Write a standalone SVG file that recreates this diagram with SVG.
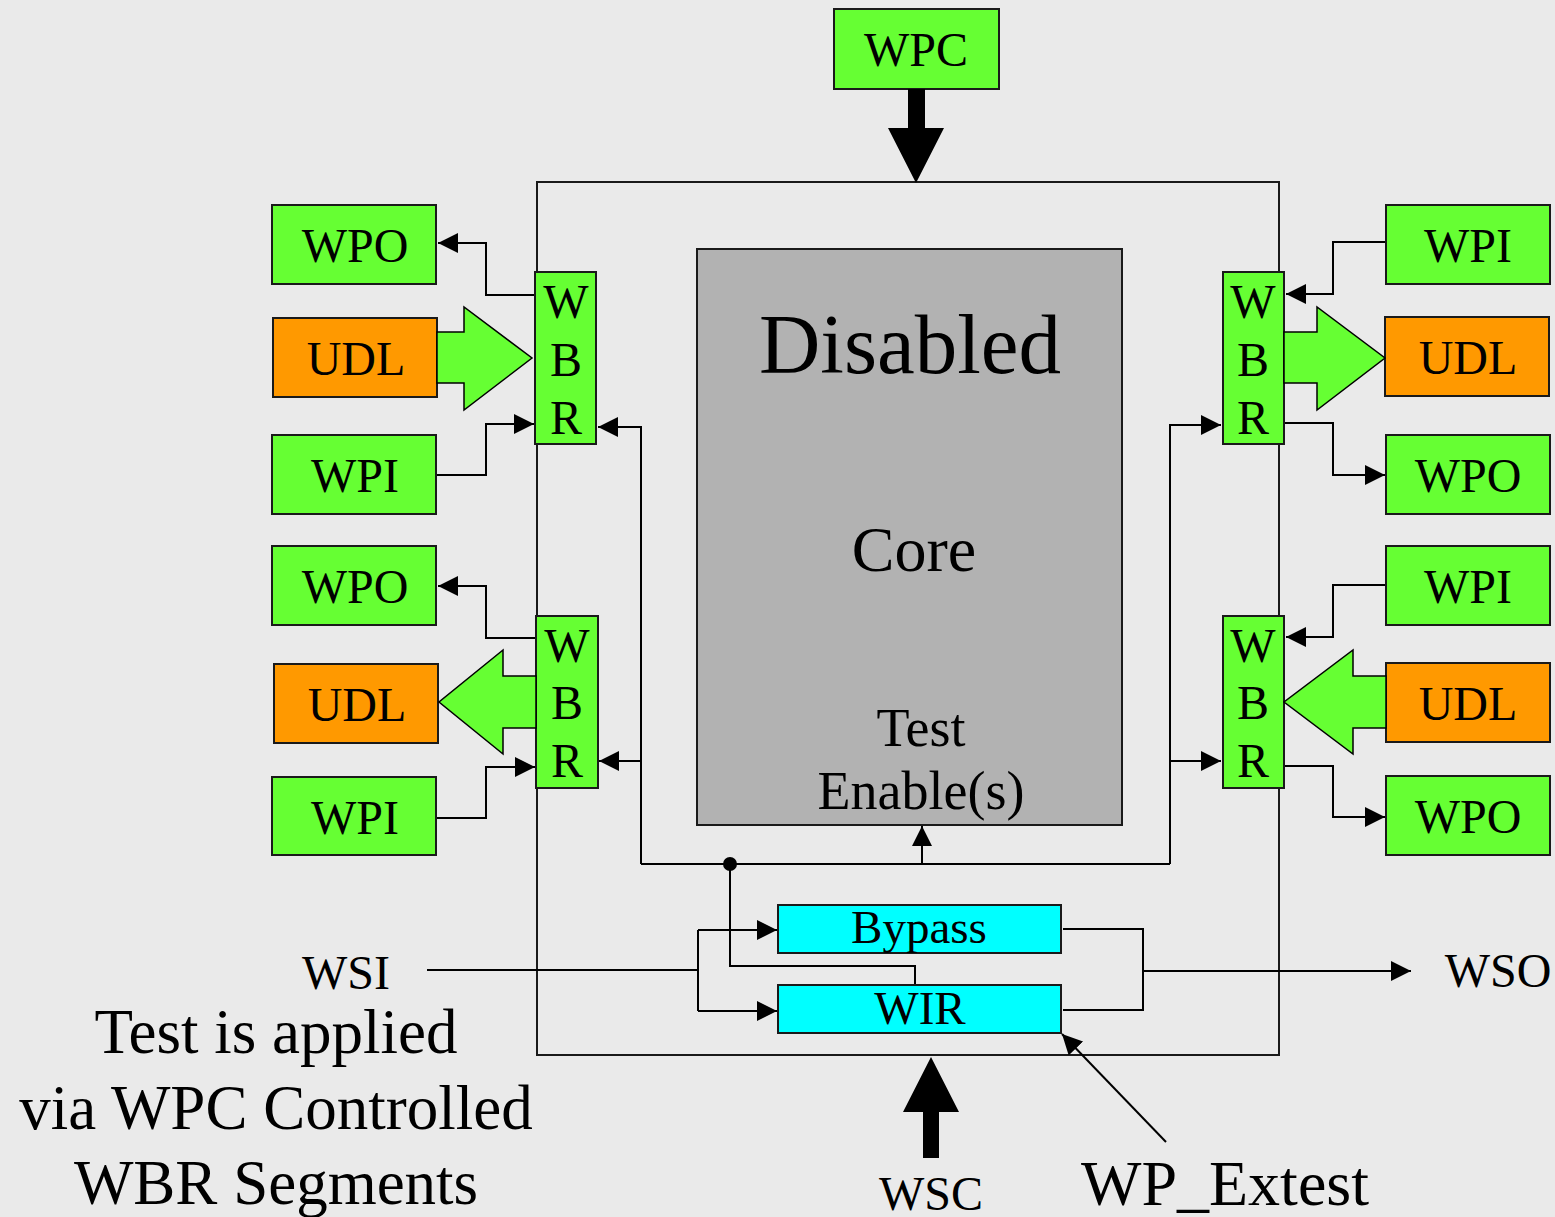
<svg xmlns="http://www.w3.org/2000/svg" width="1555" height="1217" viewBox="0 0 1555 1217">
<defs>
<style>
.bg{fill:#eaeaea}
.box{stroke:#1a1a1a;stroke-width:2}
.g{fill:#66ff33}
.o{fill:#ff9900}
.c{fill:#00ffff}
.core{fill:#b2b2b2;stroke:#1a1a1a;stroke-width:2}
.frame{fill:none;stroke:#1a1a1a;stroke-width:2}
.big{fill:#66ff33;stroke:#000;stroke-width:1.5;stroke-linejoin:miter}
.thick{fill:#000}
.ln{fill:none;stroke:#000;stroke-width:2}
.arr{marker-end:url(#ah)}
text{font-family:"Liberation Serif","Times New Roman",serif;fill:#000;text-anchor:middle}
.t48{font-size:48px}
.t47{font-size:47px}
</style>
<marker id="ah" markerUnits="userSpaceOnUse" markerWidth="22" markerHeight="22" refX="20" refY="10" orient="auto">
<path d="M0,0 L20,10 L0,20 z" fill="#000"/>
</marker>
</defs>
<rect class="bg" x="0" y="0" width="1555" height="1217"/>

<g id="wrapper">
<rect class="frame" x="537" y="182" width="742" height="873"/>
</g>

<g id="core">
<rect class="core" x="697" y="249" width="425" height="576"/>
<text x="910" y="373" style="font-size:85px">Disabled</text>
<text x="914" y="571" style="font-size:64px">Core</text>
<text x="921" y="746" style="font-size:54px">Test</text>
<text x="921" y="809" style="font-size:54px">Enable(s)</text>
</g>

<g id="wpc">
<rect class="box g" x="834" y="9" width="165" height="80"/>
<text class="t48" x="916" y="66">WPC</text>
<polygon class="thick" points="908,89 925,89 925,128 944,128 916,183 888,128 908,128"/>
</g>

<g id="wsc">
<polygon class="thick" points="923,1158 939,1158 939,1112 959,1112 931,1057 903,1112 923,1112"/>
<text class="t48" x="931" y="1210">WSC</text>
</g>

<g id="connectors">
<path class="ln arr" d="M535,295 H486 V243 H438"/>
<path class="ln arr" d="M436,475 H486 V424 H534"/>
<path class="ln arr" d="M641,864 V427 H598"/>
<path class="ln arr" d="M536,638 H486 V586 H438"/>
<path class="ln arr" d="M436,818 H486 V767 H535"/>
<path class="ln arr" d="M641,761 H599"/>
<path class="ln" d="M641,864 H1170"/>
<path class="ln arr" d="M1170,864 V425 H1221"/>
<path class="ln arr" d="M1170,761 H1221"/>
<path class="ln arr" d="M1386,242 H1333 V294 H1286"/>
<path class="ln arr" d="M1284,423 H1333 V475 H1385"/>
<path class="ln arr" d="M1386,585 H1333 V637 H1286"/>
<path class="ln arr" d="M1284,766 H1333 V817 H1385"/>
<path class="ln arr" d="M922,864 V826"/>
<circle cx="730" cy="864" r="7" fill="#000"/>
<path class="ln" d="M730,864 V966 H915 V985"/>
<path class="ln" d="M427,970 H698"/>
<path class="ln" d="M698,930 V1011"/>
<path class="ln arr" d="M698,930 H777"/>
<path class="ln arr" d="M698,1011 H777"/>
<path class="ln" d="M1063,929 H1143 V1010 H1063"/>
<path class="ln arr" d="M1143,971 H1411"/>
<path class="ln arr" d="M1166,1142 L1062,1034"/>
</g>

<g id="wbr-lu">
<rect class="box g" x="535" y="272" width="61" height="172"/>
<text class="t48" x="566" y="318">W</text>
<text class="t48" x="566" y="376">B</text>
<text class="t48" x="566" y="434">R</text>
</g>
<g id="wbr-ll">
<rect class="box g" x="536" y="616" width="62" height="172"/>
<text class="t48" x="567" y="662">W</text>
<text class="t48" x="567" y="719">B</text>
<text class="t48" x="567" y="777">R</text>
</g>
<g id="wbr-ru">
<rect class="box g" x="1223" y="272" width="61" height="172"/>
<text class="t48" x="1253" y="318">W</text>
<text class="t48" x="1253" y="376">B</text>
<text class="t48" x="1253" y="434">R</text>
</g>
<g id="wbr-rl">
<rect class="box g" x="1223" y="616" width="61" height="172"/>
<text class="t48" x="1253" y="662">W</text>
<text class="t48" x="1253" y="719">B</text>
<text class="t48" x="1253" y="777">R</text>
</g>

<g id="wpo-lu"><rect class="box g" x="272" y="205" width="164" height="79"/><text class="t48" x="355" y="262">WPO</text></g>
<g id="udl-lu"><rect class="box o" x="273" y="318" width="164" height="79"/><text class="t48" x="356" y="375">UDL</text>
<polygon class="big" points="437,332 464,332 464,307 532,358 464,410 464,383 437,383"/></g>
<g id="wpi-lu"><rect class="box g" x="272" y="435" width="164" height="79"/><text class="t48" x="355" y="492">WPI</text></g>

<g id="wpo-ll"><rect class="box g" x="272" y="546" width="164" height="79"/><text class="t48" x="355" y="603">WPO</text></g>
<g id="udl-ll"><rect class="box o" x="274" y="664" width="164" height="79"/><text class="t48" x="357" y="721">UDL</text>
<polygon class="big" points="536,676 503,676 503,650 439,702 503,754 503,728 536,728"/></g>
<g id="wpi-ll"><rect class="box g" x="272" y="777" width="164" height="78"/><text class="t48" x="355" y="834">WPI</text></g>

<g id="wpi-ru"><rect class="box g" x="1386" y="205" width="164" height="79"/><text class="t48" x="1468" y="262">WPI</text></g>
<g id="udl-ru"><rect class="box o" x="1385" y="317" width="164" height="79"/><text class="t48" x="1468" y="374">UDL</text>
<polygon class="big" points="1284,332 1317,332 1317,307 1385,358 1317,410 1317,383 1284,383"/></g>
<g id="wpo-ru"><rect class="box g" x="1386" y="435" width="164" height="79"/><text class="t48" x="1468" y="492">WPO</text></g>

<g id="wpi-rl"><rect class="box g" x="1386" y="546" width="164" height="79"/><text class="t48" x="1468" y="603">WPI</text></g>
<g id="udl-rl"><rect class="box o" x="1386" y="663" width="164" height="79"/><text class="t48" x="1468" y="720">UDL</text>
<polygon class="big" points="1386,676 1353,676 1353,650 1284,702 1353,754 1353,728 1386,728"/></g>
<g id="wpo-rl"><rect class="box g" x="1386" y="776" width="164" height="79"/><text class="t48" x="1468" y="833">WPO</text></g>

<g id="bypass"><rect class="box c" x="778" y="905" width="283" height="48"/><text class="t47" x="919" y="943">Bypass</text></g>
<g id="wir"><rect class="box c" x="778" y="985" width="283" height="48"/><text class="t47" x="920" y="1024">WIR</text></g>

<g id="labels">
<text class="t48" x="346" y="989">WSI</text>
<text class="t48" x="1498" y="987">WSO</text>
<text x="1225" y="1205" style="font-size:64px">WP_Extest</text>
<text x="276" y="1053" style="font-size:63px">Test is applied</text>
<text x="276" y="1129" style="font-size:63px">via WPC Controlled</text>
<text x="276" y="1204" style="font-size:63px">WBR Segments</text>
</g>
</svg>
